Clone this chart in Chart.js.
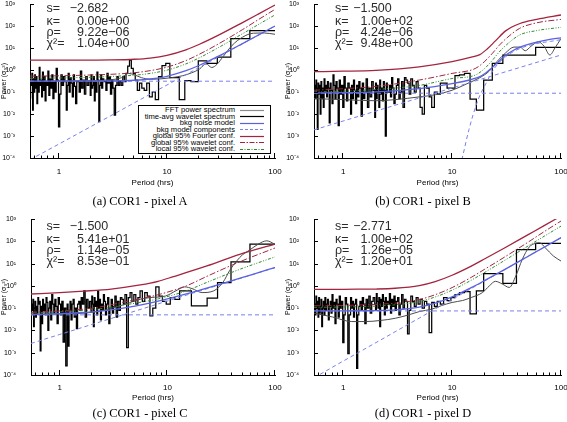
<!DOCTYPE html>
<html>
<head>
<meta charset="utf-8">
<script src="https://cdn.jsdelivr.net/npm/chart.js@4.4.1/dist/chart.umd.min.js"></script>
<style>
  html, body { margin:0; padding:0; background:#fff; }
  #root { position:relative; width:567px; height:422px; overflow:hidden; background:#fff; font-family:"Liberation Sans", Arial, sans-serif; }
  canvas { position:absolute; }
  .ann { position:absolute; font-size:12.5px; line-height:12.5px; color:#2b2b2b; white-space:nowrap; opacity:0.999; }
  .cap { position:absolute; font-family:"Liberation Serif", "Times New Roman", serif; font-size:12.4px; line-height:12.4px; color:#000; white-space:nowrap; transform:translateX(-50%); opacity:0.999; }
  .legend { position:absolute; left:138px; top:105px; width:133px; height:49px; box-sizing:border-box; border:1px solid #000; background:#fff; opacity:0.999; }
  .legend .t { position:absolute; right:35px; font-size:7.6px; line-height:8px; height:8px; color:#000; white-space:nowrap; }
  .legend svg { position:absolute; left:101px; overflow:visible; }
</style>
</head>
<body>
<div id="root"></div>
<script>
// ================= DATA =================
const xTickValues = [1, 10, 100];
const xTickLabels = ['1', '10', '100'];
const xMinorTicks = [0.6, 0.7, 0.8, 0.9, 2, 3, 4, 5, 6, 7, 8, 9, 20, 30, 40, 50, 60, 70, 80, 90];
const yTickValues = [1e-4, 1e-3, 1e-2, 1e-1, 1, 10, 100, 1000];
const yTickLabels = ['10⁻⁴', '10⁻³', '10⁻²', '10⁻¹', '10⁰', '10¹', '10²', '10³'];
const xTitle = 'Period (hrs)';
const yTitle = 'Power (σ₀²)';

const legendLabels = ['FFT power spectrum', 'time-avg wavelet spectrum', 'bkg noise model',
  'bkg model components', 'global 95% Fourier conf.', 'global 95% wavelet conf.', 'local 95% wavelet conf.'];
const paramNames = ['s=', 'κ=', 'ρ=', 'χ²='];
const paramsA = ['−2.682', '0.00e+00', '9.22e−06', '1.04e+00'];
const paramsB = ['−1.500', '1.00e+02', '4.24e−06', '9.48e+00'];
const paramsC = ['−1.500', '5.41e+01', '1.14e−05', '8.53e−01'];
const paramsD = ['−2.771', '1.00e+02', '1.26e−05', '1.20e+01'];
const captions = ['(a) COR1 - pixel A', '(b) COR1 - pixel B', '(c) COR1 - pixel C', '(d) COR1 - pixel D'];

// FFT periodogram: record length (hrs) and frequency bins k (period = T/k)
const T_REC = 117;
const bins = [];
for (let k = 1; k <= 60; k++) bins.push(k);
for (let k = 62; k <= 100; k += 2) bins.push(k);
for (let k = 103; k <= 214; k += 3) bins.push(k);

// Pixel A periodogram values (bins k=1..30, 31..60, 62..100, 103..214)
const fftA1 = [61, 27, 3.8, 2.0, 2.6, 0.3, 0.33, 0.045, 0.45, 0.45, 2.0, 1.6, 0.5, 0.045, 0.1, 0.06, 0.25, 0.12, 0.15, 0.25, 0.12, 0.35, 0.7, 1.2, 2.8, 1.5, 0.7, 0.3, 0.5, 0.2];
const fftA2 = [0.3, 0.2, 0.5, 0.2, 0.009, 0.15, 0.35, 0.08, 0.5, 0.25, 0.7, 0.12, 0.3, 0.3, 0.4, 0.15, 0.6, 0.2, 0.0045, 0.35, 0.8, 0.1, 0.3, 0.04, 0.5, 0.2, 0.15, 0.6, 0.07, 0.3];
const fftA3 = [0.2, 0.5, 0.08, 0.35, 0.15, 0.9, 0.1, 0.3, 0.3, 0.03, 0.18, 0.6, 0.06, 0.25, 0.45, 0.1, 0.7, 0.2, 0.015, 0.3];
const fftA4 = [0.5, 0.2, 0.6, 0.08, 0.0026, 0.35, 1.2, 0.1, 0.3, 0.05, 0.6, 0.15, 0.4, 0.07, 0.9, 0.2, 0.3, 0.04, 0.5, 0.12, 0.8, 0.06, 0.35, 0.2, 1.3, 0.1, 0.3, 0.03, 0.5, 0.15, 0.6, 0.1, 0.4, 0.015, 0.7, 0.2, 0.3, 0.05];
// Pixel B
const fftB1 = [10.7, 4.8, 4.8, 2.0, 0.35, 0.015, 0.047, 0.7, 0.6, 0.55, 0.15, 0.15, 0.25, 0.25, 0.08, 0.1, 0.02, 0.06, 0.15, 0.2, 0.01, 0.02, 0.15, 0.3, 0.1, 0.2, 0.4, 0.08, 0.25, 0.35];
const fftB2 = [0.45, 0.02, 0.3, 0.1, 0.05, 0.4, 0.2, 0.08, 0.03, 0.15, 0.45, 0.06, 0.2, 0.1, 0.1, 0.25, 0.001, 0.12, 0.3, 0.04, 0.15, 0.08, 0.35, 0.02, 0.1, 0.2, 0.05, 0.25, 0.007, 0.12];
const fftB3 = [0.3, 0.06, 0.15, 0.02, 0.4, 0.1, 0.05, 0.25, 0.008, 0.15, 0.3, 0.06, 0.2, 0.03, 0.12, 0.35, 0.05, 0.2, 0.01, 0.15];
const fftB4 = [0.25, 0.04, 0.15, 0.5, 0.02, 0.2, 0.08, 0.35, 0.003, 0.15, 0.3, 0.05, 0.2, 0.6, 0.03, 0.12, 0.25, 0.004, 0.15, 0.3, 0.06, 0.2, 0.1, 0.4, 0.02, 0.15, 0.05, 0.3, 0.01, 0.2, 0.08, 0.25, 0.002, 0.15, 0.35, 0.05, 0.2, 0.1];
// Pixel C
const fftC1 = [75, 12, 1.4, 0.28, 0.125, 0.125, 0.6, 0.6, 0.25, 0.3, 0.15, 0.2, 0.35, 0.9, 0.1, 0.045, 0.35, 0.5, 0.2, 0.6, 0.3, 0.15, 0.4, 0.2, 0.5, 0.3, 0.0017, 0.4, 0.15, 0.25];
const fftC2 = [0.3, 0.08, 0.2, 0.04, 0.35, 0.12, 0.06, 0.25, 0.1, 0.02, 0.3, 0.15, 0.05, 0.2, 0.4, 0.08, 0.15, 0.03, 0.25, 0.1, 0.6, 0.05, 0.2, 0.12, 0.3, 0.015, 0.15, 0.35, 0.07, 0.2];
const fftC3 = [0.1, 0.25, 0.04, 0.6, 0.15, 0.3, 0.08, 0.2, 0.15, 0.012, 0.1, 0.04, 0.25, 0.15, 0.03, 0.2, 0.08, 0.002, 0.15, 0.00026];
const fftC4 = [0.1, 0.003, 0.2, 0.05, 0.15, 0.3, 0.02, 0.12, 0.25, 0.06, 0.15, 0.4, 0.03, 0.2, 0.1, 0.01, 0.18, 0.3, 0.05, 0.15, 0.08, 0.25, 0.02, 0.12, 0.0012, 0.2, 0.15, 0.3, 0.06, 0.12, 0.04, 0.2, 0.1, 0.015, 0.25, 0.08, 0.15, 0.05];
// Pixel D
const fftD1 = [80, 42, 1.3, 3.5, 3.5, 0.6, 0.055, 0.55, 0.5, 0.4, 0.3, 0.22, 0.3, 0.15, 0.2, 0.12, 0.18, 0.008, 0.15, 0.2, 0.1, 0.25, 0.15, 0.3, 0.12, 0.2, 0.35, 0.08, 0.007, 0.2];
const fftD2 = [0.25, 0.1, 0.4, 0.15, 0.05, 0.3, 0.2, 0.08, 0.35, 0.12, 0.25, 0.06, 0.45, 0.15, 0.2, 0.1, 0.3, 0.05, 0.2, 0.4, 0.12, 0.25, 0.015, 0.3, 0.1, 0.2, 0.45, 0.08, 0.15, 0.3];
const fftD3 = [0.2, 0.06, 0.35, 0.1, 0.25, 0.02, 0.15, 0.3, 0.08, 0.2, 0.12, 0.05, 0.0002, 0.25, 0.15, 0.04, 0.2, 0.1, 0.3, 0.05];
const fftD4 = [0.0009, 0.15, 0.3, 0.05, 0.0028, 0.2, 0.1, 0.35, 0.04, 0.15, 0.25, 0.02, 0.18, 0.1, 0.4, 0.06, 0.2, 0.12, 0.03, 0.25, 0.15, 0.08, 0.3, 0.05, 0.2, 0.1, 0.015, 0.25, 0.12, 0.06, 0.3, 0.04, 0.2, 0.1, 0.35, 0.05, 0.15, 0.08];

// Smooth curves sampled at these periods (hrs)
const curveP = [0.54, 0.7, 1, 1.5, 2, 3, 5, 7, 10, 15, 20, 30, 50, 70, 100];

// Pixel A curves
const flatA = 0.31;
const plA = [8.3e-5, 1.66e-4, 4.3e-4, 1.28e-3, 2.77e-3, 8.2e-3, 0.0324, 0.0798, 0.208, 0.617, 1.33, 3.96, 15.6, 38.4, 100];
const modelA = [0.31, 0.31, 0.31, 0.311, 0.313, 0.318, 0.342, 0.39, 0.518, 0.927, 1.64, 4.27, 15.9, 38.7, 100.3];
const fourierA = [2.79, 2.79, 2.79, 2.8, 2.82, 2.86, 3.08, 3.5, 4.66, 8.3, 14.8, 38.4, 143, 348, 903];
const gwavA = [0.527, 0.533, 0.543, 0.569, 0.595, 0.636, 0.752, 0.936, 1.35, 2.69, 5.25, 15.4, 68.4, 194, 572];
const lwavA = [0.419, 0.425, 0.434, 0.451, 0.47, 0.509, 0.581, 0.702, 0.984, 1.9, 3.61, 10.5, 44.5, 116, 321];
const waveA_P = [0.54, 1, 2, 3, 3.8, 4.4, 5, 5.8, 7, 9, 11, 14, 17, 20, 23, 26, 29, 33, 40, 50, 63, 80, 100];
const waveA = [0.3, 0.32, 0.33, 0.36, 0.45, 0.7, 0.6, 0.45, 0.38, 0.4, 0.45, 0.55, 0.75, 1.1, 1.9, 1.3, 1.8, 4.0, 13, 31, 47, 48, 42];

// Pixel B curves
const flatB = 0.088;
const plB = [1.9e-3, 2.8e-3, 4.8e-3, 8.8e-3, 0.0136, 0.025, 0.0537, 0.0889, 0.152, 0.279, 0.429, 0.789, 1.70, 2.81, 4.8];
const kapB_P = [11, 12.4, 14.3, 17.2, 20.5, 24.5, 31, 42, 60, 80, 100];
const kapB = [1e-5, 1e-4, 0.002, 0.04, 0.25, 1.2, 4.0, 9.5, 16, 20, 24];
const modelB_P = [0.54, 1, 2, 5, 10, 15, 18, 20.5, 23, 25.5, 28, 31.4, 36, 42, 50, 60, 75, 100];
const modelB = [0.09, 0.093, 0.102, 0.142, 0.24, 0.37, 0.5, 0.75, 1.2, 1.9, 3.0, 4.9, 7.5, 11, 14.5, 18.5, 23.5, 29];
const fourierB_P = [0.54, 1, 2, 5, 10, 15, 18, 21, 25, 31, 42, 60, 100];
const fourierB = [0.84, 0.88, 0.97, 1.4, 2.4, 3.8, 5, 9, 21, 60, 130, 200, 316];
const wconfB_P = [0.54, 1, 2, 5, 10, 16.5, 20, 23.5, 27, 31.4, 41.7, 60, 100];
const gwavB = [0.12, 0.14, 0.18, 0.35, 0.7, 1.2, 2.5, 5.8, 13, 27, 78, 140, 200];
const lwavB = [0.1, 0.11, 0.13, 0.2, 0.41, 0.6, 1.2, 2.8, 6.5, 13.6, 39, 62, 87];
const waveB_P = [0.54, 1, 2, 3, 5, 7, 10, 14, 18, 22, 26, 31, 37, 42, 47, 53, 62, 70, 79, 88, 100];
const waveB = [0.05, 0.045, 0.04, 0.045, 0.06, 0.075, 0.12, 0.25, 0.45, 0.9, 2.5, 6, 11, 11, 7.5, 12, 19, 12, 4.8, 10, 27];

// Pixel C curves
const flatC = 0.05;
const plC = [2.6e-3, 3.87e-3, 6.6e-3, 0.0121, 0.0187, 0.0343, 0.0738, 0.122, 0.209, 0.383, 0.59, 1.08, 2.33, 3.87, 6.6];
const modelC = [0.0526, 0.0539, 0.0566, 0.0621, 0.0687, 0.0843, 0.124, 0.172, 0.259, 0.433, 0.64, 1.13, 2.38, 3.92, 6.65];
const fourierC_P = [0.54, 1, 1.67, 3, 5.6, 8.2, 11.4, 23.3, 47, 100];
const fourierC = [0.43, 0.5, 0.58, 0.72, 1.1, 1.6, 2.6, 7.8, 26, 75];
const wconfC_P = [0.54, 1, 2, 4, 8.2, 15, 23, 47, 100];
const gwavC = [0.065, 0.075, 0.1, 0.19, 0.4, 1.0, 2.6, 12, 50];
const lwavC = [0.06, 0.068, 0.085, 0.14, 0.26, 0.6, 1.4, 5.5, 20];
const waveC_P = [0.54, 1, 2, 3.5, 5.6, 7, 9.6, 12, 14.5, 17, 21, 27, 33, 38, 44, 50, 58, 70, 84, 100];
const waveC = [0.05, 0.055, 0.065, 0.12, 0.25, 0.3, 0.35, 0.6, 0.9, 0.75, 0.5, 0.6, 1.5, 5, 13, 25, 40, 75, 105, 73];

// Pixel D curves
const flatD = 0.075;
const plD = [7.5e-5, 1.55e-4, 4.2e-4, 1.28e-3, 2.84e-3, 8.7e-3, 0.036, 0.0915, 0.246, 0.756, 1.68, 5.16, 21.3, 54, 145];
const modelD = [0.075, 0.075, 0.0754, 0.0763, 0.0778, 0.0837, 0.111, 0.167, 0.321, 0.831, 1.76, 5.24, 21.4, 54.1, 145];
const fourierD = [0.7, 0.7, 0.7, 0.71, 0.72, 0.78, 1.03, 1.55, 2.99, 7.7, 16.4, 48.7, 199, 503, 1350];
const gwavD = [0.128, 0.129, 0.132, 0.14, 0.148, 0.167, 0.244, 0.4, 0.835, 2.41, 5.63, 18.9, 92, 270, 812];
const lwavD = [0.109, 0.11, 0.113, 0.118, 0.124, 0.141, 0.2, 0.317, 0.642, 1.79, 4.05, 13.4, 62, 168, 479];
const waveD_P = [0.54, 0.8, 1.2, 1.6, 2.2, 3, 4, 5, 6.5, 8, 10, 12.5, 15, 19, 22, 25, 29, 33.5, 38.5, 44, 51, 58, 63.5, 72, 85, 100];
const waveD = [0.06, 0.04, 0.025, 0.025, 0.028, 0.035, 0.05, 0.07, 0.09, 0.13, 0.18, 0.22, 0.3, 0.5, 1.0, 1.6, 1.2, 0.85, 2.8, 15, 55, 80, 86, 50, 22, 13];

// ================= STYLE / BUILD =================
const X_MIN = 0.54, X_MAX = 100, Y_MIN = 1e-4, Y_MAX = 1e3;
const C_BLUE = '#5a62e2', C_BLUE_D = '#7880ea', C_RED = '#a3243e', C_GREEN = '#2e8b2e', C_GREY = '#4a4a4a';
const DASH_BLUE = [4, 3], DASH_RED = [6, 2, 1.5, 2], DASH_GREEN = [3, 1.6, 1, 1.6, 1, 1.6];
Chart.defaults.font.family = '"Liberation Sans", Arial, sans-serif';

function stepData(vals) {
  const pts = [];
  const n = Math.min(vals.length, bins.length);
  for (let i = n - 1; i >= 0; i--) pts.push({x: T_REC / bins[i], y: vals[i]});
  return pts;
}
function xy(ps, vs) { return ps.map((p, i) => ({x: p, y: vs[i]})); }
function flatLine(v) { return [{x: X_MIN, y: v}, {x: X_MAX, y: v}]; }
function ds(data, color, width, dash, order, extra) {
  return Object.assign({data, borderColor: color, borderWidth: width, borderDash: dash || [],
    pointRadius: 0, fill: false, order, cubicInterpolationMode: 'monotone'}, extra || {});
}
function buildDatasets(fft, waveP, wave, flat, pl, modelP, model, fP, fourier, wP, gwav, lwav, kapP, kap) {
  const list = [
    ds(stepData(fft), '#000', 1.25, null, 10, {stepped: 'after', cubicInterpolationMode: 'default'}),
    ds(xy(waveP, wave), C_GREY, 1, null, 9),
    ds(flatLine(flat), C_BLUE_D, 1, DASH_BLUE, 6),
    ds(xy(curveP, pl), C_BLUE_D, 1, DASH_BLUE, 6),
    ds(xy(modelP, model), C_BLUE, 1.3, null, 4),
    ds(xy(wP, lwav), C_GREEN, 1, DASH_GREEN, 3),
    ds(xy(wP, gwav), C_RED, 1, DASH_RED, 2),
    ds(xy(fP, fourier), C_RED, 1.3, null, 1)
  ];
  if (kapP) list.push(ds(xy(kapP, kap), C_BLUE_D, 1, DASH_BLUE, 6));
  return list;
}

const panels = [
  {cx: 0, cy: 0, cw: 283, ch: 200, l: 30, r: 275, t: 4, b: 158, xLabY: 172, xTitY: 183, yTitX: 3.5,
   cap: captions[0], capX: 140, capY: 202, annX: [46.5, 77], annY: [8.5, 21, 32.5, 43.5], params: paramsA,
   datasets: buildDatasets([...fftA1, ...fftA2, ...fftA3, ...fftA4], waveA_P, waveA, flatA, plA, curveP, modelA, curveP, fourierA, curveP, gwavA, lwavA)},
  {cx: 283, cy: 0, cw: 284, ch: 200, l: 314, r: 561, t: 4, b: 158, xLabY: 172, xTitY: 183, yTitX: 288,
   cap: captions[1], capX: 423, capY: 202, annX: [335, 360.5], annY: [8.5, 21, 32.5, 43.5], params: paramsB,
   datasets: buildDatasets([...fftB1, ...fftB2, ...fftB3, ...fftB4], waveB_P, waveB, flatB, plB, modelB_P, modelB, fourierB_P, fourierB, wconfB_P, gwavB, lwavB, kapB_P, kapB)},
  {cx: 0, cy: 205, cw: 283, ch: 200, l: 31, r: 275, t: 219, b: 375, xLabY: 388, xTitY: 398, yTitX: 3.5,
   cap: captions[2], capX: 140, capY: 414, annX: [46.5, 77], annY: [226, 239.5, 250.5, 261], params: paramsC,
   datasets: buildDatasets([...fftC1, ...fftC2, ...fftC3, ...fftC4], waveC_P, waveC, flatC, plC, curveP, modelC, fourierC_P, fourierC, wconfC_P, gwavC, lwavC)},
  {cx: 283, cy: 205, cw: 284, ch: 200, l: 314, r: 561, t: 219, b: 375, xLabY: 388, xTitY: 398, yTitX: 288,
   cap: captions[3], capX: 423, capY: 414, annX: [335, 360.5], annY: [226, 239.5, 250.5, 261], params: paramsD,
   datasets: buildDatasets([...fftD1, ...fftD2, ...fftD3, ...fftD4], waveD_P, waveD, flatD, plD, curveP, modelD, curveP, fourierD, curveP, gwavD, lwavD)}
];

const inTicks = {
  id: 'inTicks',
  afterDraw(chart) {
    const {ctx, chartArea: a, scales: {x, y}} = chart;
    ctx.save();
    ctx.strokeStyle = '#000'; ctx.lineWidth = 1;
    ctx.beginPath();
    xTickValues.forEach(v => { const px = Math.round(x.getPixelForValue(v)) - 0.5; ctx.moveTo(px, a.bottom); ctx.lineTo(px, a.bottom - 5); });
    xMinorTicks.forEach(v => { const px = Math.round(x.getPixelForValue(v)) - 0.5; ctx.moveTo(px, a.bottom); ctx.lineTo(px, a.bottom - 2.5); });
    yTickValues.forEach(v => { const py = Math.round(y.getPixelForValue(v)) + 0.5; ctx.moveTo(a.left, py); ctx.lineTo(a.left + 4, py); });
    ctx.stroke();
    ctx.restore();
  }
};

const root = document.getElementById('root');

function makeChart(p) {
  const cv = document.createElement('canvas');
  cv.width = p.cw; cv.height = p.ch;
  Object.assign(cv.style, {left: p.cx + 'px', top: p.cy + 'px', width: p.cw + 'px', height: p.ch + 'px'});
  root.appendChild(cv);
  const yW = p.l - p.cx, padR = p.cx + p.cw - p.r, padT = p.t - p.cy, xH = p.cy + p.ch - p.b;
  new Chart(cv, {
    type: 'line',
    data: {datasets: p.datasets},
    options: {
      responsive: false, animation: false, devicePixelRatio: 1, events: [],
      layout: {padding: {left: 0, right: padR, top: padT, bottom: 0}},
      plugins: {legend: {display: false}, tooltip: {enabled: false}},
      scales: {
        x: {
          type: 'logarithmic', min: X_MIN, max: X_MAX, position: 'bottom',
          grid: {display: false, drawTicks: false},
          border: {display: true, color: '#000', width: 1},
          ticks: {autoSkip: false, maxRotation: 0, minRotation: 0, padding: p.xLabY - p.b - 4.8, color: '#000',
                  font: {size: 8}, callback: (v, i) => xTickLabels[i]},
          afterBuildTicks: s => { s.ticks = xTickValues.map(v => ({value: v})); },
          afterFit: s => { s.height = xH; s.paddingLeft = 0; s.paddingRight = 0; },
          title: {display: true, text: xTitle, color: '#000', font: {size: 8},
                  padding: {top: 0, bottom: (p.cy + p.ch) - p.xTitY - 4.8}}
        },
        y: {
          type: 'logarithmic', min: Y_MIN, max: Y_MAX, position: 'left',
          grid: {display: false, drawTicks: false},
          border: {display: true, color: '#000', width: 1},
          ticks: {autoSkip: false, padding: 15, color: '#000', font: {size: 7}, callback: (v, i) => yTickLabels[i]},
          afterBuildTicks: s => { s.ticks = yTickValues.map(v => ({value: v})); },
          afterFit: s => { s.width = yW; s.paddingTop = 0; s.paddingBottom = 0; },
          title: {display: true, text: yTitle, color: '#000', font: {size: 7},
                  padding: {top: Math.max(0, (p.yTitX - p.cx) - 4.2), bottom: 0}}
        }
      }
    },
    plugins: [inTicks]
  });

  // parameter annotations
  p.params.forEach((val, i) => {
    const top = p.annY[i] - 6.1;
    const lab = document.createElement('div');
    lab.className = 'ann'; lab.textContent = paramNames[i];
    Object.assign(lab.style, {left: p.annX[0] + 'px', top: top + 'px'});
    root.appendChild(lab);
    const v = document.createElement('div');
    v.className = 'ann'; v.textContent = val;
    const shift = val.startsWith('−') ? 7.3 : 0;
    Object.assign(v.style, {left: (p.annX[1] - shift) + 'px', top: top + 'px'});
    root.appendChild(v);
  });
  // caption
  const c = document.createElement('div');
  c.className = 'cap'; c.textContent = p.cap;
  Object.assign(c.style, {left: p.capX + 'px', top: (p.capY - 6.7) + 'px'});
  root.appendChild(c);
}

panels.forEach(makeChart);

// legend (panel A)
const legendStyles = [
  {c: '#8c8c8c', w: 1.2, d: ''}, {c: '#000', w: 1.2, d: ''}, {c: C_BLUE, w: 1.2, d: ''},
  {c: C_BLUE_D, w: 1, d: '3,2'}, {c: C_RED, w: 1.2, d: ''}, {c: C_RED, w: 1.2, d: '5,1.5,1.5,1.5'},
  {c: C_GREEN, w: 1.2, d: '3,1.5,1,1.5'}
];
const leg = document.createElement('div');
leg.className = 'legend';
legendLabels.forEach((txt, i) => {
  const t = document.createElement('div');
  t.className = 't'; t.textContent = txt; t.style.top = (6.5 * i) + 'px';
  leg.appendChild(t);
  const st = legendStyles[i];
  const svgNS = 'http://www.w3.org/2000/svg';
  const s = document.createElementNS(svgNS, 'svg');
  s.setAttribute('width', '24'); s.setAttribute('height', '3');
  s.style.top = (6.5 * i + 2.5) + 'px';
  const ln = document.createElementNS(svgNS, 'line');
  ln.setAttribute('x1', '0'); ln.setAttribute('x2', '24'); ln.setAttribute('y1', '1.5'); ln.setAttribute('y2', '1.5');
  ln.setAttribute('stroke', st.c); ln.setAttribute('stroke-width', st.w);
  if (st.d) ln.setAttribute('stroke-dasharray', st.d);
  s.appendChild(ln);
  leg.appendChild(s);
});
root.appendChild(leg);
</script>
</body>
</html>
